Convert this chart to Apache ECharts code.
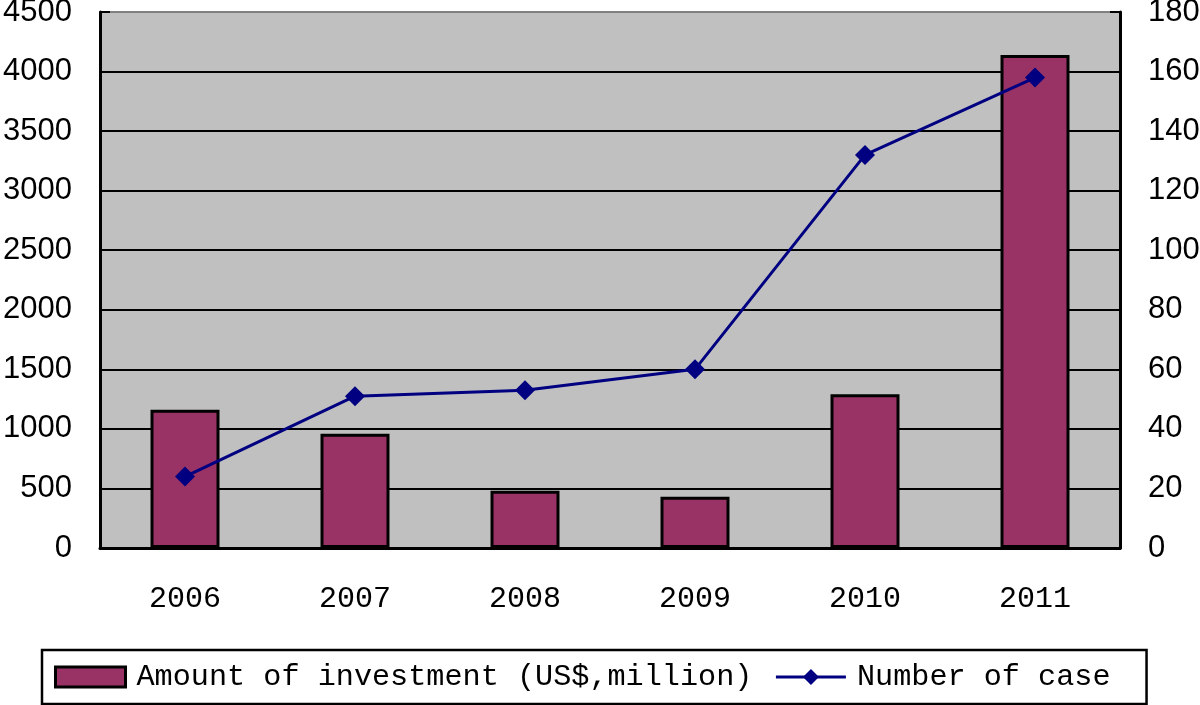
<!DOCTYPE html>
<html>
<head>
<meta charset="utf-8">
<script src="https://cdn.jsdelivr.net/npm/echarts@6/dist/echarts.min.js"></script>
<style>html,body{margin:0;padding:0;background:#fff}#c{width:1200px;height:705px}</style>
</head>
<body>
<div id="c"></div>
<script>
const years = ['2006', '2007', '2008', '2009', '2010', '2011'];
const investment = [1160, 960, 480, 430, 1290, 4140];
const cases = [24, 51, 53, 60, 132, 158];
const seriesNames = ['Amount of investment (US$,million)', 'Number of case'];

const chart = echarts.init(document.getElementById('c'), null, {renderer: 'canvas'});
const gridColors = ['#000','#000','#000','#000','#000','#000','#000','#000','#000','#808080'];
chart.setOption({
  animation: false,
  backgroundColor: '#fff',
  grid: {left: 100, right: 80, top: 12, bottom: 157, show: true, backgroundColor: '#c0c0c0', borderWidth: 0,
         containLabel: false, outerBoundsMode: 'none'},
  legend: {
    left: 42, top: 650,
    orient: 'horizontal',
    itemWidth: 70, itemHeight: 20, itemGap: 22,
    borderColor: '#000', borderWidth: 2.5,
    padding: [12, 36, 12, 12],
    textStyle: {fontFamily: 'Liberation Mono', fontSize: 30.2, color: '#000', padding: [0, 0, 0, 6]},
    data: [
      {name: seriesNames[0], icon: 'rect', itemStyle: {borderColor: '#000', borderWidth: 3}},
      {name: seriesNames[1], lineStyle: {width: 3}}
    ]
  },
  xAxis: {
    type: 'category', data: years, boundaryGap: true,
    axisLine: {lineStyle: {color: '#000', width: 3}},
    axisTick: {inside: true, length: 8, lineStyle: {color: '#000', width: 2}},
    axisLabel: {fontFamily: 'Liberation Mono', fontSize: 30, color: '#000', margin: 36}
  },
  yAxis: [
    {
      type: 'value', min: 0, max: 4500, interval: 500,
      axisLine: {show: true, lineStyle: {color: '#000', width: 3}},
      axisTick: {show: true, inside: true, length: 10, lineStyle: {color: '#000', width: 2}},
      axisLabel: {fontFamily: 'Liberation Sans', fontSize: 31, color: '#000', margin: 28, formatter: v => String(v)},
      splitLine: {show: true, lineStyle: {color: gridColors, width: 2}}
    },
    {
      type: 'value', min: 0, max: 180, interval: 20,
      axisLine: {show: true, lineStyle: {color: '#000', width: 3}},
      axisTick: {show: true, inside: true, length: 10, lineStyle: {color: '#000', width: 2}},
      axisLabel: {fontFamily: 'Liberation Sans', fontSize: 31, color: '#000', margin: 28, formatter: v => String(v)},
      splitLine: {show: false}
    }
  ],
  series: [
    {
      name: seriesNames[0], type: 'bar', data: investment, yAxisIndex: 0,
      barWidth: 69,
      itemStyle: {color: '#993366', borderColor: '#000', borderWidth: 3}
    },
    {
      name: seriesNames[1], type: 'line', data: cases, yAxisIndex: 1,
      symbol: 'diamond', symbolSize: 20,
      lineStyle: {color: '#000080', width: 3},
      itemStyle: {color: '#000080'},
      z: 5
    }
  ]
});
</script>
</body>
</html>
